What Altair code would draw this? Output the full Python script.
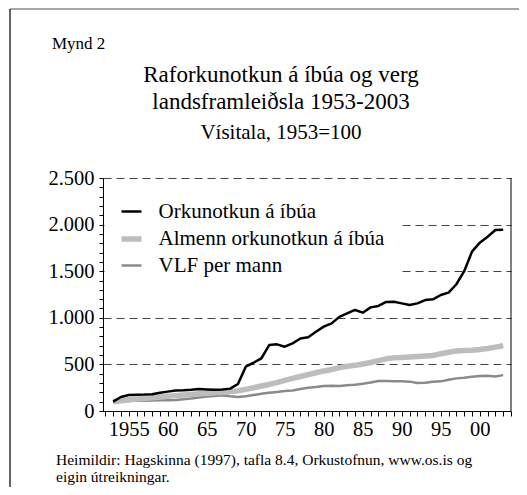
import altair as alt
import pandas as pd

years = list(range(1953, 2004))

orkunotkun = [100, 150, 172, 175, 176, 180, 195, 208, 220, 222,
              228, 236, 232, 228, 230, 240, 290, 475, 518, 565,
              708, 715, 690, 726, 778, 792, 850, 905, 940, 1010,
              1048, 1084, 1055, 1112, 1127, 1170, 1173, 1155, 1137, 1155,
              1190, 1198, 1245, 1270, 1360, 1500, 1710, 1806, 1870, 1942,
              1945]

almenn = [100, 110, 120, 128, 135, 142, 150, 158, 165, 172,
          178, 185, 190, 195, 200, 208, 218, 232, 250, 268,
          285, 305, 328, 350, 370, 390, 410, 430, 445, 465,
          480, 490, 505, 520, 540, 560, 570, 575, 580, 585,
          590, 595, 615, 630, 645, 650, 652, 660, 670, 685,
          700]

vlf = [100, 102, 108, 112, 110, 112, 114, 116, 118, 125,
       135, 145, 155, 162, 170, 158, 150, 158, 172, 185,
       195, 205, 215, 220, 235, 250, 258, 268, 270, 268,
       275, 282, 292, 305, 322, 322, 318, 320, 315, 300,
       302, 315, 318, 335, 350, 358, 368, 375, 378, 370,
       385]

series_names = ["Orkunotkun á íbúa", "Almenn orkunotkun á íbúa", "VLF per mann"]
series_colors = ["#000000", "#bdbdbd", "#8a8a8a"]
series_widths = [2.5, 5.5, 2.5]

x_ticks = list(range(1952, 2005))
y_ticks = list(range(0, 2600, 100))

rows = []
for name, vals in zip(series_names, [orkunotkun, almenn, vlf]):
    for yr, v in zip(years, vals):
        rows.append({"year": yr, "value": v, "series": name})
df = pd.DataFrame(rows)

FONT = "Liberation Serif"
W, H = 408, 233

legend = alt.Legend(
    title=None, orient="none", legendX=1.5, legendY=8,
    fillColor="white", padding=14, symbolType="stroke", symbolSize=400,
    labelFont=FONT, labelFontSize=21, labelColor="black", labelOffset=14,
    rowPadding=4, labelLimit=0,
)

base = alt.Chart(df).mark_line(strokeJoin="round").encode(
    x=alt.X("year:Q", scale=alt.Scale(domain=[1951.7, 2004], nice=False, zero=False),
            axis=alt.Axis(title=None, values=x_ticks, grid=False, tickSize=5,
                          labelExpr="datum.value % 5 === 0 ? (datum.value === 1955 ? '1955' : slice(format(datum.value, 'd'), 2)) : ''",
                          labelFont=FONT, labelFontSize=20.5, labelColor="black",
                          labelPadding=3, labelOverlap=False, labelFlush=False,
                          domainColor="black", tickColor="black")),
    y=alt.Y("value:Q", scale=alt.Scale(domain=[0, 2500], nice=False),
            axis=alt.Axis(title=None, values=y_ticks, tickSize=4,
                          labelExpr="datum.value % 500 === 0 ? replace(format(datum.value, ','), ',', '.') : ''",
                          labelFont=FONT, labelFontSize=20.5, labelColor="black",
                          labelPadding=5, labelOverlap=False,
                          domainColor="black", tickColor="black",
                          grid=True, gridDash=[8, 5], gridColor="#444444", gridWidth=1,
                          gridOpacity={"condition": {"test": "datum.value % 500 === 0 && datum.value > 0", "value": 1}, "value": 0})),
    color=alt.Color("series:N", scale=alt.Scale(domain=series_names, range=series_colors), legend=legend),
    strokeWidth=alt.StrokeWidth("series:N", scale=alt.Scale(type="ordinal", domain=series_names, range=series_widths), legend=legend),
)

lines = [base.transform_filter(alt.datum.series == s) for s in reversed(series_names)]

one = alt.InlineData(values=[{}])

def txt(text, x, y, size, align="center"):
    return alt.Chart(one).mark_text(text=text, font=FONT, fontSize=size, color="black",
                                    align=align, baseline="middle").encode(
        x=alt.value(x), y=alt.value(y))

right_border = alt.Chart(one).mark_rule(color="black", strokeWidth=1).encode(
    x=alt.value(W), y=alt.value(0), y2=alt.value(H))
frame_top = alt.Chart(one).mark_rule(color="#8a8a8a", strokeWidth=1.5).encode(
    x=alt.value(-93), x2=alt.value(420), y=alt.value(-169))
frame_left = alt.Chart(one).mark_rule(color="#333333", strokeWidth=1.5).encode(
    x=alt.value(-93), y=alt.value(-169), y2=alt.value(310))

texts = [
    txt("Mynd 2", -51, -134, 17, "left"),
    txt("Raforkunotkun á íbúa og verg", 178, -103, 23),
    txt("landsframleiðsla 1953-2003", 178, -76, 23),
    txt("Vísitala, 1953=100", 178, -45, 21),
    txt("Heimildir: Hagskinna (1997), tafla 8.4, Orkustofnun, www.os.is og", -47, 282, 15.5, "left"),
    txt("eigin útreikningar.", -47, 299, 15.5, "left"),
]

chart = alt.layer(*lines, right_border, frame_top, frame_left, *texts).properties(
    width=W, height=H,
    autosize=alt.AutoSizeParams(type="none"),
    padding={"left": 95, "top": 170, "right": 8, "bottom": 76},
    background="white",
).configure(
    font=FONT
).configure_axis(
    labelFont=FONT
).configure_legend(
    labelFont=FONT
).configure_text(
    font=FONT
).configure_view(stroke=None)

chart.save("out.html", embed_options={"renderer": "svg", "actions": False})
